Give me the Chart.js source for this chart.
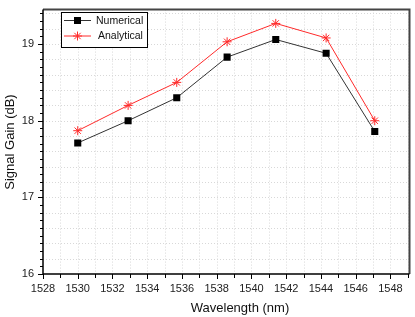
<!DOCTYPE html>
<html>
<head>
<meta charset="utf-8">
<script src="https://cdn.jsdelivr.net/npm/chart.js@4/dist/chart.umd.min.js"></script>
<style>
  html, body { margin: 0; padding: 0; background: #fff; }
  #wrap { width: 415px; height: 317px; }
</style>
</head>
<body>
<div id="wrap"><canvas id="chart" width="415" height="317"></canvas></div>
<script>
// wavelengths (nm) and gains (dB)
let wavelengths = [1530, 1532.9, 1535.7, 1538.6, 1541.4, 1544.3, 1547.1];
let numerical = [17.71, 18.00, 18.30, 18.83, 19.06, 18.88, 17.86];
let analytical = [17.87, 18.20, 18.50, 19.03, 19.27, 19.08, 18.00];
let xTickLabels = [1528, 1530, 1532, 1534, 1536, 1538, 1540, 1542, 1544, 1546, 1548];
let yTickLabels = [16, 17, 18, 19];

const FONT = '"Liberation Sans", Arial, sans-serif';

function toPoints(ys) {
    return wavelengths.map((w, i) => ({ x: w, y: ys[i] }));
}

// draw a legend marker by hand
function drawMarker(ctx, style, x, y, color) {
    ctx.save();
    if (style === 'rect') {
        ctx.fillStyle = color;
        ctx.fillRect(x - 3.5, y - 3.5, 7, 7);
    } else {
        ctx.strokeStyle = color;
        ctx.lineWidth = 1;
        ctx.beginPath();
        for (let a = 0; a < 4; a++) {
            let ang = a * Math.PI / 4;
            ctx.moveTo(x - 4.5 * Math.cos(ang), y - 4.5 * Math.sin(ang));
            ctx.lineTo(x + 4.5 * Math.cos(ang), y + 4.5 * Math.sin(ang));
        }
        ctx.stroke();
    }
    ctx.restore();
}

// grid, frame, minor ticks, titles and legend
const decorations = {
    id: 'decorations',
    beforeDatasetsDraw(chart) {
        let ctx = chart.ctx;
        let a = chart.chartArea;
        let xs = chart.scales.x, ys = chart.scales.y;
        ctx.save();
        ctx.strokeStyle = '#d8d8d8';
        ctx.lineWidth = 1;
        ctx.setLineDash([1, 2]);
        for (let v = 1529; v <= 1549; v++) {
            let px = Math.round(xs.getPixelForValue(v)) + 0.5;
            ctx.beginPath(); ctx.moveTo(px, a.top); ctx.lineTo(px, a.bottom); ctx.stroke();
        }
        for (let i = 1; i <= 17; i++) {
            let v = 16 + i * 0.2;
            let py = Math.round(ys.getPixelForValue(v)) + 0.5;
            ctx.beginPath(); ctx.moveTo(a.left, py); ctx.lineTo(a.right, py); ctx.stroke();
        }
        ctx.restore();
    },
    afterDraw(chart) {
        let ctx = chart.ctx;
        let a = chart.chartArea;
        let xs = chart.scales.x, ys = chart.scales.y;
        ctx.save();

        // top and right frame
        ctx.strokeStyle = '#444';
        ctx.lineWidth = 2;
        ctx.beginPath();
        ctx.moveTo(a.left, a.top); ctx.lineTo(a.right, a.top); ctx.lineTo(a.right, a.bottom);
        ctx.stroke();

        // axes
        ctx.strokeStyle = '#000';
        ctx.lineWidth = 1.5;
        ctx.beginPath();
        ctx.moveTo(a.left, a.top); ctx.lineTo(a.left, a.bottom); ctx.lineTo(a.right, a.bottom);
        ctx.stroke();

        // ticks
        ctx.lineWidth = 1;
        ctx.beginPath();
        for (let v = 1528; v <= 1549; v++) {
            let px = Math.round(xs.getPixelForValue(v)) + 0.5;
            let len = v % 2 === 0 ? 5 : 4;
            ctx.moveTo(px, a.bottom); ctx.lineTo(px, a.bottom + len);
        }
        for (let i = 0; i <= 34; i++) {
            let v = 16 + i * 0.1;
            let py = Math.round(ys.getPixelForValue(v)) + 0.5;
            let len = i % 10 === 0 ? 5 : 3;
            ctx.moveTo(a.left, py); ctx.lineTo(a.left - len, py);
        }
        ctx.stroke();

        // axis titles
        ctx.fillStyle = '#111';
        ctx.font = '13px ' + FONT;
        ctx.textAlign = 'center';
        ctx.textBaseline = 'middle';
        ctx.fillText('Wavelength (nm)', 240, 308);
        ctx.save();
        ctx.translate(10, 142);
        ctx.rotate(-Math.PI / 2);
        ctx.fillText('Signal Gain (dB)', 0, 0);
        ctx.restore();

        // legend
        ctx.fillStyle = '#fff';
        ctx.fillRect(61, 12, 86, 35);
        ctx.strokeStyle = '#000';
        ctx.lineWidth = 1;
        ctx.strokeRect(61.5, 12.5, 86, 35);
        let entries = [
            { label: 'Numerical', color: '#333', marker: 'rect', y: 20.5, tx: 96 },
            { label: 'Analytical', color: '#ff2a2a', marker: 'star', y: 36, tx: 98 }
        ];
        ctx.font = '10.5px ' + FONT;
        ctx.textAlign = 'left';
        entries.forEach(e => {
            ctx.strokeStyle = e.color;
            ctx.beginPath(); ctx.moveTo(64, e.y); ctx.lineTo(91, e.y); ctx.stroke();
            drawMarker(ctx, e.marker, 77.5, e.y, e.marker === 'rect' ? '#000' : e.color);
            ctx.fillStyle = '#111';
            ctx.fillText(e.label, e.tx, e.y + 0.5);
        });
        ctx.restore();
    }
};

new Chart(document.getElementById('chart').getContext('2d'), {
    type: 'line',
    data: {
        datasets: [{
            label: 'Numerical',
            data: toPoints(numerical),
            borderColor: '#333',
            borderWidth: 1,
            pointStyle: 'rect',
            pointRadius: 5,
            pointBackgroundColor: '#000',
            pointBorderColor: '#000',
            pointBorderWidth: 0
        }, {
            label: 'Analytical',
            data: toPoints(analytical),
            borderColor: '#ff2a2a',
            borderWidth: 1,
            pointStyle: 'star',
            pointRadius: 4.5,
            pointBorderColor: '#ff2a2a',
            pointBackgroundColor: '#ff2a2a',
            pointBorderWidth: 1
        }]
    },
    options: {
        responsive: false,
        animation: false,
        layout: { padding: { top: 5, right: 3, left: 0, bottom: 0 } },
        plugins: {
            legend: { display: false },
            tooltip: { enabled: false }
        },
        scales: {
            x: {
                type: 'linear',
                min: 1528,
                max: 1549.1,
                afterFit: s => { s.height = 43; },
                afterBuildTicks: s => { s.ticks = xTickLabels.map(v => ({ value: v })); },
                ticks: {
                    includeBounds: false,
                    maxRotation: 0,
                    autoSkip: false,
                    color: '#222',
                    font: { family: FONT, size: 11 },
                    padding: 4,
                    callback: v => String(v)
                },
                grid: { display: true, drawOnChartArea: false, color: 'rgba(0,0,0,0)', tickLength: 4 },
                border: { display: false }
            },
            y: {
                min: 16,
                max: 19.45,
                afterFit: s => { s.width = 43; },
                afterBuildTicks: s => { s.ticks = yTickLabels.map(v => ({ value: v })); },
                ticks: {
                    includeBounds: false,
                    color: '#222',
                    font: { family: FONT, size: 11 },
                    padding: 3,
                    callback: v => String(v)
                },
                grid: { display: true, drawOnChartArea: false, color: 'rgba(0,0,0,0)', tickLength: 6 },
                border: { display: false }
            }
        }
    },
    plugins: [decorations]
});
</script>
</body>
</html>
